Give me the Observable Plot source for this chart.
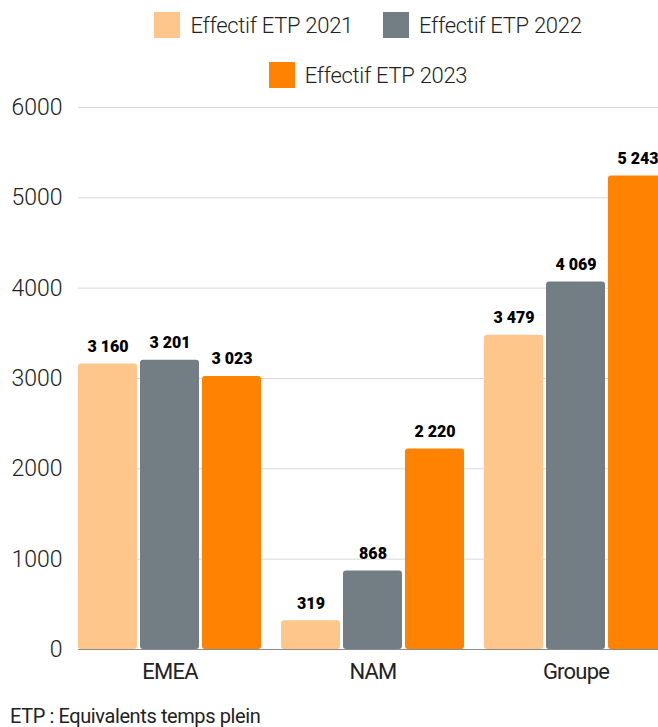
<!DOCTYPE html>
<html><head><meta charset="utf-8">
<script src="https://cdn.jsdelivr.net/npm/d3@7"></script>
<script src="https://cdn.jsdelivr.net/npm/@observablehq/plot@0.6"></script>
<style>
body{margin:0;background:#fff;font-family:Roboto,sans-serif;color:#222}
#wrap{position:relative;width:658px;height:727px;overflow:hidden}
#legend{position:absolute;left:78px;top:12px;width:580px;display:flex;flex-wrap:wrap;justify-content:center;column-gap:30px;row-gap:24px}
.item{display:flex;align-items:center;height:26px;font-size:22px;font-weight:300;letter-spacing:-0.3px;color:#222}
.sw{width:26px;height:26px;margin-right:10px}
#chart{position:absolute;top:95px;left:0;width:700px}
#chart svg{max-width:none !important}
#caption{position:absolute;top:706px;left:10px;font-size:20px;line-height:21px;letter-spacing:-0.4px;color:#222}
g[aria-label="fx-axis tick label"] text{letter-spacing:-0.8px}
</style></head>
<body><div id="wrap"><div id="legend"></div><div id="chart"></div><div id="caption">ETP : Equivalents temps plein</div></div>
<script>
const regions = ["EMEA", "NAM", "Groupe"];
const years = ["Effectif ETP 2021", "Effectif ETP 2022", "Effectif ETP 2023"];
const v2021 = [3160, 319, 3479];
const v2022 = [3201, 868, 4069];
const v2023 = [3023, 2220, 5243];
const yTicks = [0, 1000, 2000, 3000, 4000, 5000, 6000];
const colors = ["#FEC68A", "#737E84", "#FF8200"];

const series = [v2021, v2022, v2023];
const rows = regions.flatMap((r, i) => years.map((y, j) => ({region: r, year: y, value: series[j][i]})));
const fmt = d3.formatLocale({thousands: " ", grouping: [3], decimal: ","}).format(",d");

const legend = document.getElementById("legend");
years.forEach((y, j) => {
  const it = document.createElement("div");
  it.className = "item";
  it.innerHTML = `<span class="sw" style="background:${colors[j]}"></span><span>${y}</span>`;
  legend.appendChild(it);
});

const plot = Plot.plot({
  width: 667, height: 594,
  marginLeft: 78, marginRight: 0, marginTop: 12, marginBottom: 40,
  style: {fontFamily: "Roboto, sans-serif", background: "white", overflow: "visible", maxWidth: "none"},
  fx: {domain: regions, paddingInner: 0.1, paddingOuter: 0, label: null},
  x: {domain: years, paddingInner: 0.05, paddingOuter: 0, axis: null},
  y: {domain: [0, 6000], axis: null, label: null},
  color: {domain: years, range: colors},
  marks: [
    Plot.axisY(yTicks.slice(1), {tickSize: -589, tickFormat: () => "", stroke: "#d9d9d9", label: null}),
    Plot.axisY(yTicks, {tickSize: 0, tickPadding: 16, tickFormat: d => String(d), fontSize: 23, fontWeight: 300, fill: "#222", label: null}),
    Plot.barY(rows, {fx: "region", x: "year", y: "value", fill: "year", rx: 3}),
    Plot.axisY([0], {tickSize: -589, tickFormat: () => "", stroke: "#8c8c8c", label: null}),
    Plot.text(rows, {fx: "region", x: "year", y: "value", text: d => fmt(d.value), lineAnchor: "bottom", dy: -12, fontSize: 16, fontWeight: 900, fill: "#000"}),
    Plot.axisFx({anchor: "bottom", tickSize: 0, tickPadding: 14, fontSize: 22, fill: "#222", label: null})
  ]
});
document.getElementById("chart").appendChild(plot);
</script>
</body></html>
